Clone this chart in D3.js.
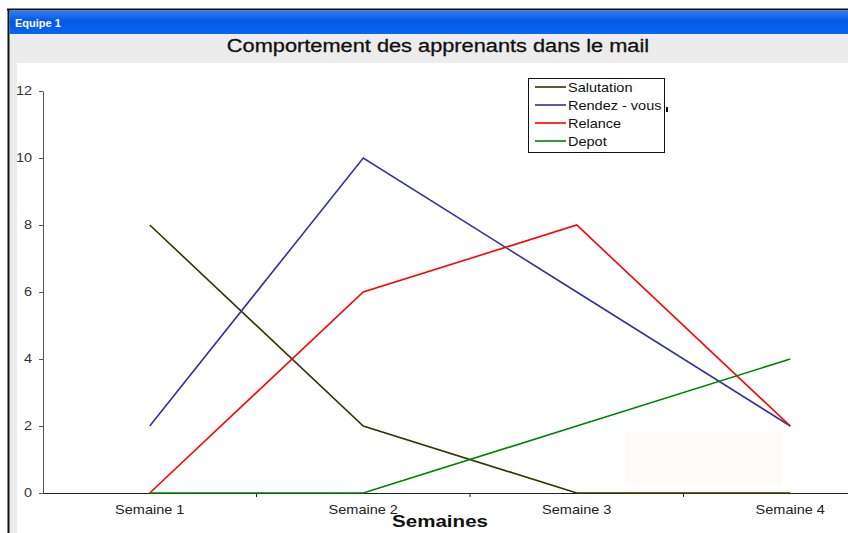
<!DOCTYPE html>
<html>
<head>
<meta charset="utf-8">
<script src="https://cdn.jsdelivr.net/npm/d3@7"></script>
<style>
  body { margin: 0; background: #fff; }
  svg { display: block; font-family: "Liberation Sans", Arial, sans-serif; }
</style>
</head>
<body>
<svg id="chart" width="848" height="533"></svg>
<script>
// chart values
const weeks = ['Semaine 1', 'Semaine 2', 'Semaine 3', 'Semaine 4'];
const salutation = [8, 2, 0, 0];
const rendezVous = [2, 10, 6, 2];
const relance = [0, 6, 8, 2];
const depot = [0, 0, 2, 4];
const yTicks = [0, 2, 4, 6, 8, 10, 12];

const seriesNames = ['Salutation', 'Rendez - vous', 'Relance', 'Depot'];
const seriesColors = ['#333300', '#333399', '#ff0000', '#008000'];
const seriesValues = [salutation, rendezVous, relance, depot];

// the screenshot is a little stretched sideways
const SX = 1.21;

const svg = d3.select('#chart');

// text placed at (x, y) and widened by SX
function label(parent, x, y, str) {
  return parent.append('text')
    .attr('transform', `translate(${x},${y}) scale(${SX},1)`)
    .text(str);
}

// window frame
svg.append('rect').attr('x', 9).attr('y', 10).attr('width', 839).attr('height', 523).attr('fill', '#ececec');
svg.append('line').attr('x1', 7).attr('x2', 848).attr('y1', 9.5).attr('y2', 9.5).attr('stroke', '#111').attr('stroke-width', 2);
svg.append('line').attr('x1', 8.5).attr('x2', 8.5).attr('y1', 9).attr('y2', 533).attr('stroke', '#111').attr('stroke-width', 2);

const grad = svg.append('defs').append('linearGradient').attr('id', 'bar').attr('x1', 0).attr('x2', 0).attr('y1', 0).attr('y2', 1);
grad.append('stop').attr('offset', '0%').attr('stop-color', '#2a7cff');
grad.append('stop').attr('offset', '45%').attr('stop-color', '#0558e0');
grad.append('stop').attr('offset', '100%').attr('stop-color', '#0a66f5');
svg.append('rect').attr('x', 9.5).attr('y', 11).attr('width', 839).attr('height', 23).attr('fill', 'url(#bar)');
svg.append('text').attr('x', 15).attr('y', 27).attr('fill', '#fff')
  .attr('font-size', 11).attr('font-weight', 'bold')
  .text('Equipe 1');

// plot area background
svg.append('rect').attr('x', 17).attr('y', 63).attr('width', 831).attr('height', 470).attr('fill', '#fff');
svg.append('rect').attr('x', 625).attr('y', 433).attr('width', 157).attr('height', 52).attr('fill', '#fffafa');

// title
label(svg, 438, 52, 'Comportement des apprenants dans le mail')
  .attr('text-anchor', 'middle').attr('font-size', 18).attr('fill', '#111')
  .attr('stroke', '#111').attr('stroke-width', 0.3);

// scales
const x = d3.scaleBand().domain(weeks).range([43, 897]);
const y = d3.scaleLinear().domain([0, 12]).range([493, 91]);
const cx = d => x(d) + x.bandwidth() / 2;

// y axis
const yAxis = svg.append('g').attr('transform', 'translate(43,0)')
  .call(d3.axisLeft(y).tickValues(yTicks).tickSize(4).tickSizeOuter(0).tickPadding(6));
yAxis.select('.domain').attr('stroke', '#555');
yAxis.selectAll('.tick line').attr('stroke', '#555');
yAxis.selectAll('.tick text').attr('font-size', 12).attr('fill', '#333')
  .attr('font-family', '"Liberation Sans", Arial, sans-serif')
  .attr('transform', `scale(${SX},1)`).attr('x', -11 / SX);

// x axis
const xAxis = svg.append('g').attr('transform', 'translate(0,493)')
  .call(d3.axisBottom(x).tickSize(0).tickPadding(12));
xAxis.select('.domain').attr('stroke', '#222');
xAxis.selectAll('.tick text').attr('font-size', 12).attr('fill', '#222')
  .attr('font-family', '"Liberation Sans", Arial, sans-serif')
  .attr('transform', `scale(${SX},1)`);
svg.append('g').selectAll('line').data(weeks.slice(1)).join('line')
  .attr('x1', d => x(d)).attr('x2', d => x(d))
  .attr('y1', 493).attr('y2', 497).attr('stroke', '#222');

label(svg, 440, 527, 'Semaines')
  .attr('text-anchor', 'middle').attr('font-size', 17).attr('font-weight', 'bold').attr('fill', '#111');

// lines
const line = d3.line().x(d => cx(d.week)).y(d => y(d.value));
seriesValues.forEach((vals, i) => {
  svg.append('path')
    .datum(vals.map((v, j) => ({ week: weeks[j], value: v })))
    .attr('fill', 'none')
    .attr('stroke', seriesColors[i])
    .attr('stroke-width', 1.6)
    .attr('d', line);
});

// legend
const lg = svg.append('g').attr('transform', 'translate(528,78)');
lg.append('rect').attr('x', 0.5).attr('y', 0.5).attr('width', 136).attr('height', 74)
  .attr('fill', '#fff').attr('stroke', '#111');
seriesNames.forEach((name, i) => {
  const yy = 9 + i * 18;
  lg.append('line').attr('x1', 7).attr('x2', 38).attr('y1', yy).attr('y2', yy)
    .attr('stroke', seriesColors[i]).attr('stroke-width', 1.6);
  label(lg, 40, yy + 4.5, name).attr('font-size', 12).attr('fill', '#111');
});
svg.append('rect').attr('x', 666).attr('y', 107).attr('width', 2).attr('height', 5).attr('fill', '#111');
</script>
</body>
</html>
